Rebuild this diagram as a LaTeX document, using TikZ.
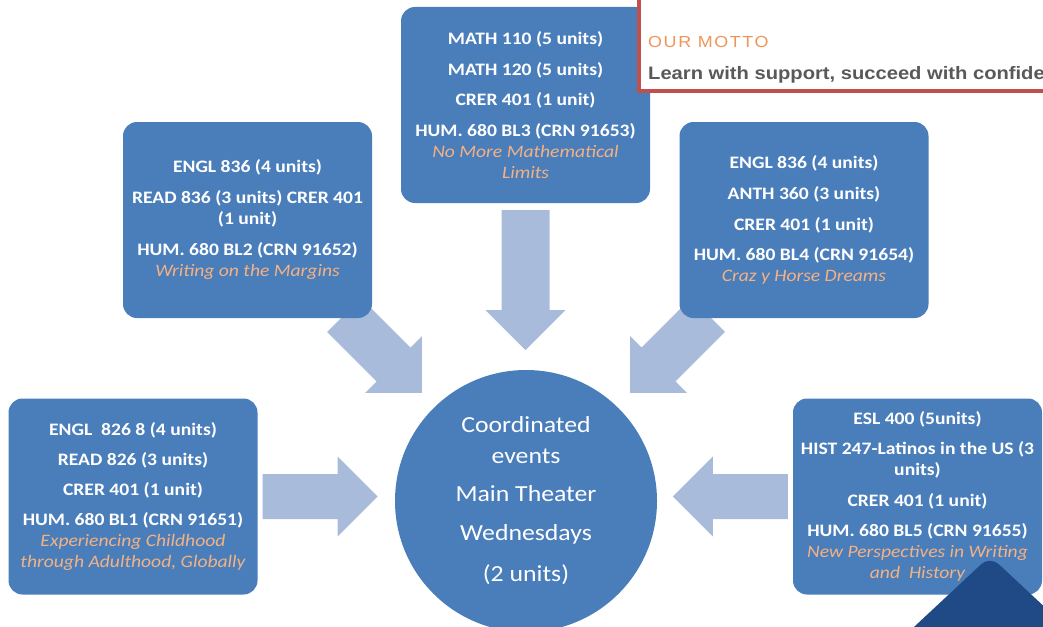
\documentclass[tikz,border=0pt]{standalone}
\usepackage{fontspec}
\setmainfont{Carlito}[FakeStretch=1.12]
\newfontfamily\mottofont{Liberation Sans}[FakeStretch=1.12]
\newfontfamily\mottospaced{Liberation Sans}[FakeStretch=1.12,LetterSpace=10]
\usetikzlibrary{positioning}
\usetikzlibrary{calc}
\usetikzlibrary{backgrounds}

\definecolor{boxblue}{HTML}{4A7EBB}
\definecolor{arrowblue}{HTML}{A9BBDA}
\definecolor{titleorange}{HTML}{F4B183}
\definecolor{mottored}{HTML}{C0504D}
\definecolor{mottoorange}{HTML}{F0955A}
\definecolor{mottogrey}{HTML}{595959}
\definecolor{cornerblue}{HTML}{1F4A86}

\tikzset{
  course/.style={rounded corners=14pt, fill=boxblue, minimum width=249pt, minimum height=196pt,
    inner sep=0pt, align=center, text=white, font=\fontsize{17.5}{21}\selectfont\bfseries},
  hub/.style={circle, fill=boxblue, minimum size=262pt, inner sep=0pt, align=center,
    text=white, font=\fontsize{23}{31}\selectfont},
}
\newcommand{\subtitle}[1]{{\color{titleorange}\mdseries\itshape #1}}
% tail, angle, length, half shaft width
\newcommand{\blockarrow}[4]{%
  \fill[arrowblue, shift={#1}, rotate=#2] (0,-#4) -- (#3-40,-#4) -- (#3-40,-40) -- (#3,0)
    -- (#3-40,40) -- (#3-40,#4) -- (0,#4) -- cycle;}

\begin{document}
\begin{tikzpicture}[x=1pt, y=-1pt]

    \useasboundingbox (0,0) rectangle (1043,626);
    \clip (0,0) rectangle (1043,626);

    % Courses
    \node[course] (bl3) at (525.5,105) {MATH 110 (5 units)\\[9.5pt] MATH 120 (5 units)\\[9.5pt]
      CRER 401 (1 unit)\\[9.5pt] HUM. 680 BL3 (CRN 91653)\\ \subtitle{No More Mathematical}\\ \subtitle{Limits}};
    \node[course] (bl2) at (247.5,220) {ENGL 836 (4 units)\\[10pt] READ 836 (3 units) CRER 401\\ (1 unit)\\[10pt]
      HUM. 680 BL2 (CRN 91652)\\ \subtitle{Writing on the Margins}};
    \node[course] (bl4) at (804,220) {ENGL 836 (4 units)\\[10pt] ANTH 360 (3 units)\\[10pt]
      CRER 401 (1 unit)\\[9.5pt] HUM. 680 BL4 (CRN 91654)\\ \subtitle{Craz y Horse Dreams}};
    \node[course] (bl1) at (133,496.5) {ENGL\ \ 826 8 (4 units)\\[9pt] READ 826 (3 units)\\[9pt]
      CRER 401 (1 unit)\\[9pt] HUM. 680 BL1 (CRN 91651)\\ \subtitle{Experiencing Childhood}\\
      \subtitle{through Adulthood, Globally}};
    \node[course] (bl5) at (917.5,496.5) {ESL 400 (5units)\\[9pt] HIST 247-Latinos in the US (3\\ units)\\[10pt]
      CRER 401 (1 unit)\\[9pt] HUM. 680 BL5 (CRN 91655)\\ \subtitle{New Perspectives in Writing}\\
      \subtitle{and\ \ History}};

    % Coordinated events
    \node[hub] (hub) at (526,501) {Coordinated\\ events\\[7pt] Main Theater\\[8pt] Wednesdays\\[10pt] (2 units)};

    % Arrows into the hub
    \begin{scope}[on background layer]
      \blockarrow{($(bl3.south)+(0,7)$)}{-90}{140}{24}
      \blockarrow{(344,315)}{-45}{110}{24}
      \blockarrow{(708,315)}{-135}{110}{24}
      \blockarrow{($(bl1.east)+(5,0)$)}{0}{115}{22.5}
      \blockarrow{($(bl5.west)+(-5,0)$)}{180}{115}{22.5}
    \end{scope}

    % Motto
    \draw[mottored, line width=4.5pt, fill=white] (639,-20) rectangle (1080,91);
    \node[anchor=west, inner sep=0pt, text=mottoorange, font=\mottospaced\fontsize{16}{18}\selectfont]
      (motto) at (648,42) {OUR MOTTO};
    \node[anchor=west, inner sep=0pt, text=mottogrey, font=\mottofont\fontsize{18}{20}\selectfont\bfseries]
      (slogan) at (648,75) {Learn with support, succeed with confidence};

    % Corner shape
    \fill[cornerblue, rounded corners=12pt] (900,640) -- (990,556) -- (1080,640) -- cycle;

\end{tikzpicture}
\end{document}
